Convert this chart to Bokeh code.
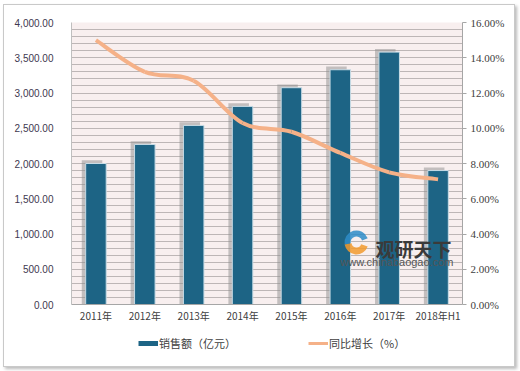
import math
from bokeh.plotting import figure
from bokeh.layouts import column
from bokeh.models import (Range1d, LinearAxis, NumeralTickFormatter, PrintfTickFormatter,
                          FixedTicker, SingleIntervalTicker, Legend, LegendItem, Label, FactorRange)
from bokeh.transform import dodge
from bokeh.embed import file_html
from bokeh.resources import INLINE

years = ["2011年", "2012年", "2013年", "2014年", "2015年", "2016年", "2017年", "2018年H1"]
sales = [2000, 2270, 2540, 2810, 3075, 3330, 3580, 1900]
growth = [15.0, 13.2, 12.7, 10.3, 9.8, 8.6, 7.5, 7.1]
left_ticks = [0, 500, 1000, 1500, 2000, 2500, 3000, 3500, 4000]
right_ticks = [0, 2, 4, 6, 8, 10, 12, 14, 16]
series_names = ["销售额（亿元）", "同比增长（%）"]

BAR = "#1D6485"
LINE = "#F5B188"
FONT = "Liberation Sans"

p = figure(x_range=FactorRange(*years, range_padding=0, factor_padding=0),
           y_range=Range1d(0, 4000), width=510, height=329,
           output_backend="svg", toolbar_location=None,
           min_border_left=67, min_border_right=52, min_border_top=17, min_border_bottom=30)
p.background_fill_color = "#F8EFEF"
p.border_fill_color = "white"
p.outline_line_color = None
p.extra_y_ranges = {"pct": Range1d(0, 16)}

# grid
p.xgrid.grid_line_color = None
p.ygrid.ticker = SingleIntervalTicker(interval=100)
p.ygrid.grid_line_color = "#BDB6B6"
p.ygrid.grid_line_width = 1.2

# shadows + bars
shadow_top = [v + 45 for v in sales]
p.vbar(x=dodge("x", -0.08, range=p.x_range), top="top", width=0.42,
       source={"x": years, "top": shadow_top},
       fill_color="#8E8E8E", fill_alpha=0.5, line_color=None)
bars = p.vbar(x=years, top=sales, width=0.42, fill_color=BAR,
              line_color="#C8DCE6", line_width=1)

# smooth growth line (Catmull-Rom style bezier through the data points)
n = len(growth)
xs = [i + 0.5 for i in range(n)]
x0, y0, x1, y1, cx0, cy0, cx1, cy1 = [], [], [], [], [], [], [], []
for i in range(n - 1):
    pxm, pym = (xs[i - 1], growth[i - 1]) if i > 0 else (xs[i], growth[i])
    pxp, pyp = (xs[i + 2], growth[i + 2]) if i + 2 < n else (xs[i + 1], growth[i + 1])
    x0.append(xs[i]); y0.append(growth[i])
    x1.append(xs[i + 1]); y1.append(growth[i + 1])
    cx0.append(xs[i] + (xs[i + 1] - pxm) / 6); cy0.append(growth[i] + (growth[i + 1] - pym) / 6)
    cx1.append(xs[i + 1] - (pxp - xs[i]) / 6); cy1.append(growth[i + 1] - (pyp - growth[i]) / 6)
curve = p.bezier(x0=x0, y0=y0, x1=x1, y1=y1, cx0=cx0, cy0=cy0, cx1=cx1, cy1=cy1,
                 line_color=LINE, line_width=4, y_range_name="pct")

# axes
p.yaxis.ticker = FixedTicker(ticks=left_ticks)
p.yaxis.formatter = NumeralTickFormatter(format="0,0.00")
p.yaxis.axis_line_color = "#BFBFBF"
p.yaxis.major_tick_line_color = None
p.yaxis.minor_tick_line_color = None
p.yaxis.major_label_text_font = FONT
p.yaxis.major_label_text_font_size = "10px"
p.yaxis.major_label_text_color = "#403850"
p.yaxis.major_label_standoff = 12

ra = LinearAxis(y_range_name="pct", ticker=FixedTicker(ticks=right_ticks),
                formatter=PrintfTickFormatter(format="%.2f%%"))
ra.axis_line_color = "#A6A6A6"
ra.major_tick_line_color = "#A6A6A6"
ra.major_tick_out = 4
ra.major_tick_in = 0
ra.minor_tick_line_color = None
ra.major_label_text_font = "Liberation Serif"
ra.major_label_text_font_size = "11px"
ra.major_label_text_color = "#404040"
ra.major_label_standoff = 4
p.add_layout(ra, "right")

p.xaxis.axis_line_color = "#A6A6A6"
p.xaxis.major_tick_line_color = None
p.xaxis.minor_tick_line_color = None
p.xaxis.major_tick_out = 0
p.xaxis.major_tick_in = 0
p.xaxis.major_label_text_font = "Noto Sans CJK SC"
p.xaxis.major_label_text_font_size = "10px"
p.xaxis.major_label_text_color = "#404040"
p.xaxis.major_label_standoff = 3

# watermark (logo swirl + text)
p.annular_wedge(x=[5.83], y=[880], inner_radius=6, outer_radius=12,
                inner_radius_units="screen", outer_radius_units="screen",
                start_angle=math.radians(20), end_angle=math.radians(190),
                fill_color="#2E8CC8", fill_alpha=0.85, line_color=None)
p.annular_wedge(x=[5.83], y=[880], inner_radius=5, outer_radius=12,
                inner_radius_units="screen", outer_radius_units="screen",
                start_angle=math.radians(190), end_angle=math.radians(340),
                fill_color="#F29A2E", fill_alpha=0.85, line_color=None)
p.add_layout(Label(x=6.22, y=800, text="观研天下", text_font="Noto Sans CJK SC",
                   text_font_size="19px", text_font_style="bold", text_color="#3A3A3A",
                   text_baseline="middle"))
p.add_layout(Label(x=5.5, y=600, text="www.chinabaogao.com", text_font=FONT,
                   text_font_size="11px", text_color="#555555", text_baseline="middle"))

# legend strip
p2 = figure(width=510, height=32, x_range=Range1d(0, 1), y_range=Range1d(0, 1),
            output_backend="svg", toolbar_location=None,
            min_border_left=0, min_border_right=0, min_border_top=0, min_border_bottom=0)
p2.axis.visible = False
p2.grid.grid_line_color = None
p2.outline_line_color = None
p2.background_fill_color = "white"
p2.border_fill_color = "white"
nan = float("nan")
lg_bar = p2.line(x=[nan], y=[nan], line_color=BAR, line_width=5)
lg_line = p2.line(x=[nan], y=[nan], line_color=LINE, line_width=3)
legend = Legend(items=[LegendItem(label=series_names[0], renderers=[lg_bar]),
                       LegendItem(label=series_names[1], renderers=[lg_line])],
                orientation="horizontal", location=(65, 13), spacing=72,
                glyph_width=20, glyph_height=10, label_standoff=1,
                label_text_font="Noto Sans CJK SC", label_text_font_size="11px",
                label_text_color="#404040", border_line_alpha=0,
                background_fill_alpha=0, padding=2, margin=0)
p2.add_layout(legend, "center")

layout = column(p, p2, spacing=0)
layout.styles = {"border": "1px solid #C9C9C9", "box-shadow": "2px 2px 3px #BBBBBB",
                 "margin": "4px 0px 0px 3px", "background-color": "white"}

open("out.html", "w").write(file_html(layout, INLINE))
